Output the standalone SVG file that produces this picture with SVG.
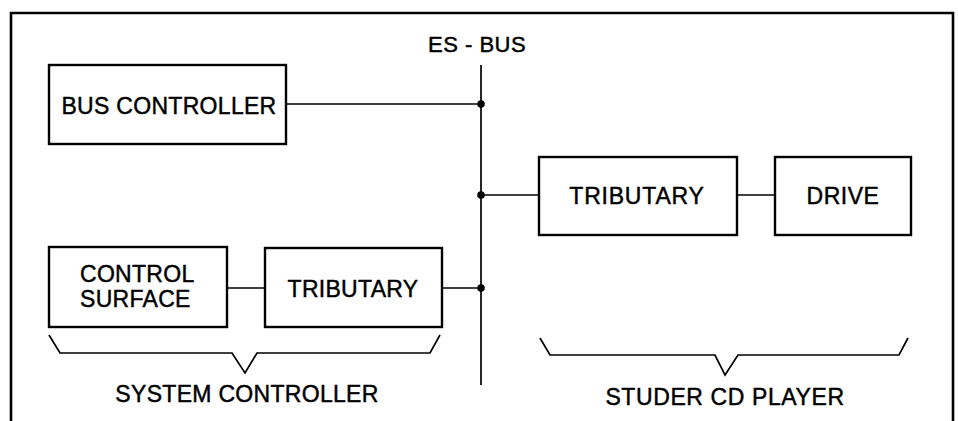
<svg xmlns="http://www.w3.org/2000/svg" width="958" height="421" viewBox="0 0 958 421">
<style>
.box{fill:#fff;stroke:#000;stroke-width:2.4}
.ln{fill:none;stroke:#000;stroke-width:1.7}
.frame{fill:none;stroke:#000;stroke-width:2.6}
.dot{fill:#000}
text{font-family:"Liberation Sans",Arial,sans-serif;font-size:23px;fill:#000;stroke:#000;stroke-width:0.45;letter-spacing:0.3px}
.c{text-anchor:middle}
</style>
<rect width="958" height="421" fill="#fff"/>
<path class="frame" d="M11,421 V13 H953 V421"/>
<text x="428" y="52" style="font-size:22px" textLength="98">ES - BUS</text>
<g id="connectors">
<line class="ln" x1="481" y1="65" x2="481" y2="385"/>
<line class="ln" x1="286" y1="104" x2="481" y2="104"/>
<line class="ln" x1="481" y1="195" x2="539" y2="195"/>
<line class="ln" x1="737" y1="195" x2="775" y2="195"/>
<line class="ln" x1="227" y1="288" x2="265" y2="288"/>
<line class="ln" x1="442" y1="288" x2="481" y2="288"/>
<circle class="dot" cx="481" cy="104" r="3.8"/>
<circle class="dot" cx="481" cy="195" r="3.8"/>
<circle class="dot" cx="481" cy="288" r="3.8"/>
</g>
<g id="bus-controller">
<rect class="box" x="49" y="65" width="237" height="79"/>
<text class="c" x="169" y="114">BUS CONTROLLER</text>
</g>
<g id="tributary-right">
<rect class="box" x="539" y="157" width="198" height="78"/>
<text class="c" x="637" y="204" style="letter-spacing:0.8px">TRIBUTARY</text>
</g>
<g id="drive">
<rect class="box" x="775" y="157" width="136" height="78"/>
<text class="c" x="843" y="204" style="letter-spacing:0.5px">DRIVE</text>
</g>
<g id="control-surface">
<rect class="box" x="49" y="247" width="178" height="80"/>
<text x="80" y="282">CONTROL</text>
<text x="80" y="307">SURFACE</text>
</g>
<g id="tributary-left">
<rect class="box" x="265" y="248" width="177" height="79"/>
<text class="c" x="353" y="297">TRIBUTARY</text>
</g>
<g id="system-controller">
<path class="ln" d="M49,335 L60,353 H232 L245,373 L257,353 H430 L440,335"/>
<text class="c" x="247" y="402">SYSTEM CONTROLLER</text>
</g>
<g id="studer-cd-player">
<path class="ln" d="M540,338 L550,355 H715 L725,375 L738,355 H899 L908,338"/>
<text class="c" x="725" y="405" style="letter-spacing:0.6px">STUDER CD PLAYER</text>
</g>
</svg>
